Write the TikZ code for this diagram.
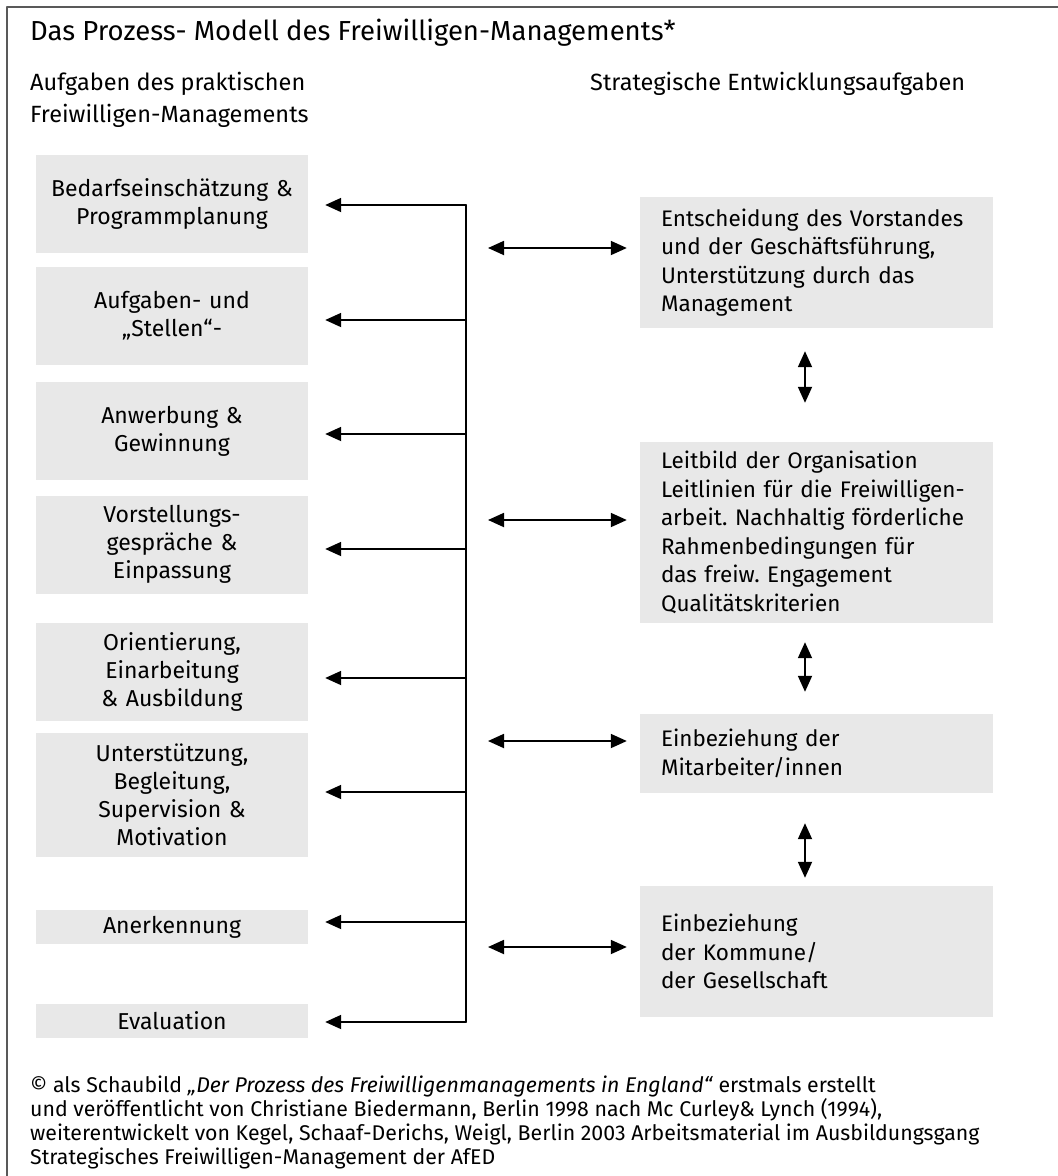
\documentclass[tikz,border=0pt]{standalone}
\usepackage{fontspec}
\usepackage{tikz}
\setmainfont{Fira Sans}
\usetikzlibrary{arrows.meta}
\usetikzlibrary{positioning}
\definecolor{boxgrau}{rgb}{0.91,0.91,0.91}
\definecolor{rahmen}{rgb}{0.35,0.35,0.35}
\tikzset{
  aufgabe/.style={fill=boxgrau,minimum width=272pt,minimum height=98pt,text width=262pt,inner xsep=5pt,align=center,font=\fontsize{23}{28}\selectfont},
  strategie/.style={fill=boxgrau,text width=311pt,inner xsep=21pt,align=left,font=\fontsize{22.5}{28.5}\selectfont},
  pfeil/.style={line width=1.8pt}
}
\frenchspacing

\begin{document}
\begin{tikzpicture}[line cap=round,line join=round,>={Triangle[length=16pt,width=14pt]},x=1pt,y=-1pt]
\useasboundingbox (0,0) rectangle (1058,1176);
\draw [line width=1.2pt,color=rahmen] (7,1176) -- (7,7) -- (1058,7);
% Kopf
\node [anchor=base west,inner sep=0pt,font=\fontsize{27.5}{33}\selectfont] (titel) at (30,40) {Das Prozess- Modell des Freiwilligen-Managements*};
\node [anchor=base west,inner sep=0pt,align=left,font=\fontsize{23.5}{32}\selectfont] (kopflinks) at (30,122) {Aufgaben des praktischen\\Freiwilligen-Managements};
\node [anchor=base west,inner sep=0pt,font=\fontsize{23.5}{32}\selectfont] (kopfrechts) at (590,90) {Strategische Entwicklungsaufgaben};
% Aufgaben links
\node [aufgabe] (bedarf) at (172,204) {Bedarfseinschätzung \&\\Programmplanung};
\node [aufgabe] (stellen) at (172,315.5) {Aufgaben- und\\„Stellen“-};
\node [aufgabe] (anwerb) at (172,431) {Anwerbung \&\\Gewinnung};
\node [aufgabe] (vorstell) at (172,544.5) {Vorstellungs-\\gespräche \&\\Einpassung};
\node [aufgabe] (orient) at (172,672) {Orientierung,\\Einarbeitung\\\& Ausbildung};
\node [aufgabe,minimum height=124pt] (unterst) at (172,795) {Unterstützung,\\Begleitung,\\Supervision \&\\Motivation};
\node [aufgabe,minimum height=34pt] (anerk) at (172,927) {Anerkennung};
\node [aufgabe,minimum height=34pt] (eval) at (172,1020.5) {Evaluation};
% Entwicklungsaufgaben rechts
\node [strategie,minimum height=131pt] (vorstand) at (816.5,262.5) {Entscheidung des Vorstandes\\und der Geschäftsführung,\\Unterstützung durch das\\Management};
\node [strategie,minimum height=181pt] (leitbild) at (816.5,532.5) {Leitbild der Organisation\\Leitlinien für die Freiwilligen-\\\mbox{arbeit. Nachhaltig förderliche}\\Rahmenbedingungen für\\das freiw. Engagement\\Qualitätskriterien};
\node [strategie,minimum height=79pt] (mitarb) at (816.5,753.5) {Einbeziehung der\\Mitarbeiter/innen};
\node [strategie,minimum height=131pt] (kommune) at (816.5,951.5) {Einbeziehung\\der Kommune/\\der Gesellschaft};
% Verteiler
\coordinate (s1) at (466,205);
\coordinate (s2) at (466,320);
\coordinate (s3) at (466,434);
\coordinate (s4) at (466,549);
\coordinate (s5) at (466,678);
\coordinate (s6) at (466,792);
\coordinate (s7) at (466,922);
\coordinate (s8) at (466,1022);
\draw [pfeil] (s1) -- (s8);
\foreach \k/\b in {1/bedarf,2/stellen,3/anwerb,4/vorstell,5/orient,6/unterst,7/anerk,8/eval}
  \draw [pfeil,->,shorten >=17pt] (s\k) -- (s\k -| \b.east);
\coordinate (r1) at (466,248);
\coordinate (r2) at (466,520);
\coordinate (r3) at (466,741);
\coordinate (r4) at (466,947);
\foreach \k/\b in {1/vorstand,2/leitbild,3/mitarb,4/kommune}
  \draw [pfeil,<->,shorten <=22pt,shorten >=13pt] (r\k) -- (r\k -| \b.west);
\coordinate (v) at (805,0);
\draw [pfeil,<->,shorten <=23pt,shorten >=39pt] (v |- vorstand.south) -- (v |- leitbild.north);
\draw [pfeil,<->,shorten <=19pt,shorten >=22pt] (v |- leitbild.south) -- (v |- mitarb.north);
\draw [pfeil,<->,shorten <=30pt,shorten >=8pt] (v |- mitarb.south) -- (v |- kommune.north);
% Quelle
\node [anchor=base west,inner sep=0pt,align=left,font=\fontsize{21.3}{24}\selectfont] (quelle) at (30,1164) {© als Schaubild \textit{„Der Prozess des Freiwilligenmanagements in England“} erstmals erstellt\\und veröffentlicht von Christiane Biedermann, Berlin 1998 nach Mc Curley\& Lynch (1994),\\weiterentwickelt von Kegel, Schaaf-Derichs, Weigl, Berlin 2003 Arbeitsmaterial im Ausbildungsgang\\Strategisches Freiwilligen-Management der AfED};
\end{tikzpicture}
\end{document}
